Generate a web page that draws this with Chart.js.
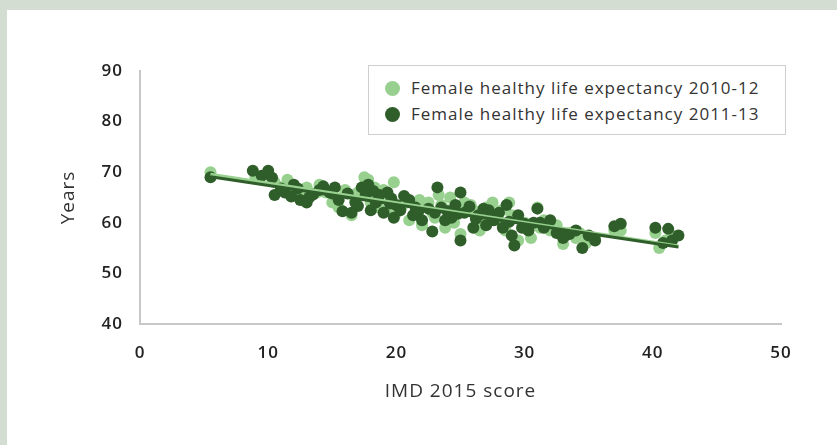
<!DOCTYPE html>
<html>
<head>
<meta charset="utf-8">
<script src="https://cdn.jsdelivr.net/npm/chart.js@4/dist/chart.umd.min.js"></script>
<style>
  html, body { margin: 0; padding: 0; }
  body { width: 837px; height: 445px; background: #d3ddd2; position: relative; overflow: hidden; font-family: "Open Sans", sans-serif; }
  #panel { position: absolute; left: 7px; top: 10px; width: 830px; height: 435px; background: #fff; }
  #chart { position: absolute; left: 0; top: 0; }
  #legend { position: absolute; left: 361px; top: 55px; width: 418px; height: 70px; border: 1px solid #cfcfcf; background: #fff; box-sizing: border-box; padding-top: 9px; }
  .item { height: 26px; line-height: 26px; font-size: 17px; letter-spacing: 1px; color: #333; white-space: nowrap; }
  .dot { display: inline-block; width: 15px; height: 15px; border-radius: 50%; margin: 0 11px 0 16px; vertical-align: -2px; }
</style>
</head>
<body>
<div id="panel">
  <canvas id="chart" width="830" height="435"></canvas>
  <div id="legend"></div>
</div>
<script>
(() => {
  const xTicks = [0, 10, 20, 30, 40, 50];
  const yTicks = [40, 50, 60, 70, 80, 90];
  const seriesNames = ['Female healthy life expectancy 2010-12', 'Female healthy life expectancy 2011-13'];
  const colors = ['#98d08f', '#2f5e2a'];

  // IMD score / years
  const imd1012 = [5.5, 9.0, 10.5, 11.5, 12.0, 13.0, 14.5, 15.5, 16.0, 16.5, 17.5, 17.8, 18.0, 19.0, 19.8, 20.5, 21.5, 22.0, 22.5, 23.0,
    23.5, 23.8, 24.2, 24.5, 25.0, 25.3, 26.0, 26.5, 27.0, 27.5, 28.0, 28.5, 28.8, 29.5, 30.0, 30.5, 31.0, 31.5, 32.5, 33.0,
    33.5, 34.0, 34.8, 35.5, 37.0, 37.5, 40.2, 40.5, 41.0, 41.5, 12.8, 14.0, 16.8, 18.6, 20.0, 21.0, 24.0, 26.8, 29.0, 30.2,
    10.0, 11.0, 13.8, 15.0, 17.0, 18.3, 19.4, 21.8, 22.8, 23.3, 25.8, 27.3, 28.2, 31.2, 32.0, 34.3];
  const hle1012 = [70.0, 69.0, 68.0, 68.5, 65.5, 67.0, 66.0, 63.0, 66.5, 61.5, 69.0, 68.5, 64.0, 66.5, 68.0, 63.5, 63.0, 59.5, 64.0, 61.0,
    63.5, 59.0, 65.0, 60.0, 57.8, 64.0, 62.5, 58.5, 63.0, 64.0, 60.5, 58.5, 64.0, 56.5, 60.0, 57.0, 63.0, 60.5, 59.5, 55.8,
    58.0, 57.0, 56.0, 57.0, 58.5, 58.5, 58.0, 55.0, 56.5, 57.5, 65.0, 67.5, 64.5, 63.0, 62.0, 60.5, 62.5, 60.0, 61.5, 59.5,
    69.5, 67.0, 66.0, 64.0, 66.0, 67.0, 62.5, 64.5, 62.0, 65.5, 63.5, 61.0, 62.5, 59.0, 58.5, 58.0];

  const imd1113 = [5.5, 8.8, 9.5, 10.0, 10.3, 10.5, 11.3, 11.8, 12.0, 12.3, 12.5, 13.0, 13.5, 14.0, 14.3, 14.8, 15.2, 15.5, 15.8, 16.2,
    16.5, 17.0, 17.3, 17.6, 17.8, 18.0, 18.4, 18.7, 19.0, 19.3, 19.5, 19.8, 20.0, 20.3, 20.6, 21.0, 21.3, 21.7, 22.0, 22.5,
    22.8, 23.2, 23.5, 23.8, 24.0, 24.3, 24.6, 25.0, 25.0, 25.3, 25.7, 26.0, 26.4, 26.8, 27.0, 27.2, 27.6, 28.0, 28.3, 28.6,
    29.0, 29.2, 29.5, 29.8, 30.3, 30.7, 31.0, 31.5, 32.0, 32.5, 33.0, 33.5, 34.0, 34.5, 35.0, 35.5, 37.0, 37.5, 40.2, 40.8,
    41.2, 41.5, 42.0, 11.0, 13.2, 15.0, 16.8, 18.2, 19.6, 21.5, 23.0, 24.8, 26.2, 27.8, 28.8, 30.0, 31.2, 33.2];
  const hle1113 = [69.0, 70.3, 69.3, 70.3, 68.9, 65.5, 66.0, 65.2, 67.5, 66.8, 64.5, 64.0, 65.6, 66.5, 67.2, 66.0, 67.0, 64.5, 62.3, 65.8,
    62.0, 63.3, 67.0, 65.5, 67.5, 62.5, 64.0, 65.5, 62.0, 66.0, 63.8, 61.0, 63.5, 62.5, 65.3, 64.5, 61.5, 62.2, 60.5, 62.8,
    58.3, 67.0, 63.0, 60.5, 62.3, 61.0, 63.5, 56.5, 66.0, 62.0, 63.2, 59.0, 61.5, 62.8, 59.5, 62.5, 60.5, 62.0, 59.0, 63.5,
    57.5, 55.5, 61.5, 59.0, 58.5, 60.0, 62.8, 59.0, 60.5, 58.0, 57.0, 57.8, 58.5, 55.0, 57.5, 56.5, 59.3, 59.8, 59.0, 56.0,
    58.8, 56.5, 57.5, 66.8, 65.0, 65.8, 64.0, 66.3, 64.8, 63.0, 62.0, 61.8, 60.8, 61.5, 60.2, 59.8, 60.0, 57.5];

  // trend line end points
  const trendX = [5.5, 42];
  const trend1012 = [69.6, 55.4];
  const trend1113 = [69.1, 55.2];

  const pts = (xs, ys) => xs.map((x, i) => ({ x, y: ys[i] }));

  const tickFont = { family: '"Open Sans", sans-serif', size: 17, weight: '600' };
  const titleFont = { family: '"Open Sans", sans-serif', size: 19 };

  const spacing = {
    id: 'spacing',
    beforeDraw(chart) { chart.ctx.letterSpacing = '1px'; }
  };

  new Chart(document.getElementById('chart'), {
    type: 'scatter',
    data: {
      datasets: [
        { label: seriesNames[0], data: pts(imd1012, hle1012), backgroundColor: colors[0], borderWidth: 0, pointRadius: 6, order: 3 },
        { label: seriesNames[1], data: pts(imd1113, hle1113), backgroundColor: colors[1], borderWidth: 0, pointRadius: 6, order: 2 },
        { label: 'trend 2010-12', data: pts(trendX, trend1012), showLine: true, borderColor: colors[0], borderWidth: 3, pointRadius: 0, order: 1 },
        { label: 'trend 2011-13', data: pts(trendX, trend1113), showLine: true, borderColor: colors[1], borderWidth: 3, pointRadius: 0, order: 0 }
      ]
    },
    plugins: [spacing],
    options: {
      responsive: false,
      animation: false,
      layout: { padding: { left: 0, right: 56, top: 61, bottom: 0 } },
      plugins: { legend: { display: false }, tooltip: { enabled: false } },
      scales: {
        x: {
          type: 'linear', min: 0, max: 50,
          afterBuildTicks: (s) => { s.ticks = xTicks.map(v => ({ value: v })); },
          afterFit: (s) => { s.height = 121; },
          grid: { display: false, drawTicks: false },
          border: { display: true, color: '#c8c8c8', width: 2 },
          ticks: { padding: 19, color: '#222', font: tickFont },
          title: { display: true, text: 'IMD 2015 score', color: '#333', font: titleFont, padding: { top: 0, bottom: 42 } }
        },
        y: {
          type: 'linear', min: 40, max: 90,
          afterBuildTicks: (s) => { s.ticks = yTicks.map(v => ({ value: v })); },
          afterFit: (s) => { s.width = 133; },
          grid: { display: false, drawTicks: false },
          border: { display: true, color: '#c8c8c8', width: 2 },
          ticks: { padding: 17, color: '#222', font: tickFont },
          title: { display: true, text: 'Years', color: '#333', font: titleFont, padding: { top: 50, bottom: 0 } }
        }
      }
    }
  });

  const legend = document.getElementById('legend');
  seriesNames.forEach((name, i) => {
    const row = document.createElement('div');
    row.className = 'item';
    row.innerHTML = '<span class="dot" style="background:' + colors[i] + '"></span>' + name;
    legend.appendChild(row);
  });
})();
</script>
</body>
</html>
